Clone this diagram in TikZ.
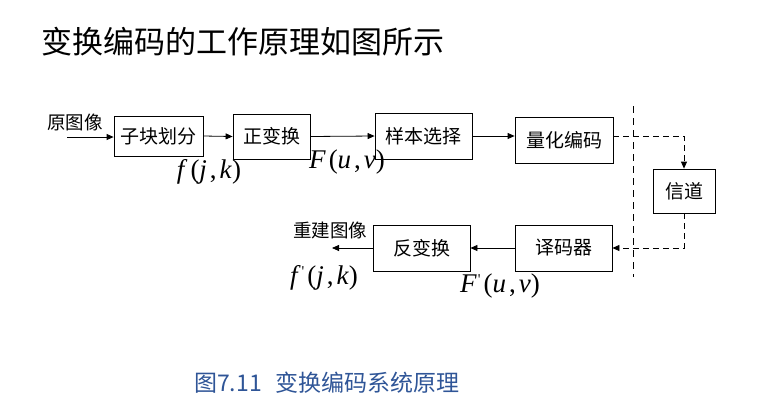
\documentclass[tikz,border=0pt]{standalone}
\usepackage{fontspec}
\newfontfamily\cjk{Noto Sans CJK SC}
\newfontfamily\tms{Liberation Serif}
\usetikzlibrary{arrows.meta}
\definecolor{capblue}{RGB}{47,85,151}
\newcommand{\gp}{\kern3pt}
\newcommand{\prm}{\kern1pt\raisebox{8pt}{\fontsize{15}{15}\selectfont\upshape\char"0027}}
\begin{document}
\begin{tikzpicture}[x=1pt,y=-1pt,
  blk/.style={draw,line width=0.8pt,inner sep=0pt,font=\cjk\fontsize{19}{21}\selectfont},
  lbl/.style={inner sep=0pt,font=\cjk\fontsize{18.5}{21}\selectfont},
  mlbl/.style={inner sep=0pt,font=\tms\fontsize{27}{29}\selectfont},
  arr/.style={line width=0.8pt,-{Triangle[length=7pt,width=6pt]}},
  darr/.style={line width=0.8pt,dash pattern=on 6pt off 4pt,-{Triangle[length=7pt,width=6pt]}},
  dline/.style={line width=0.8pt,dash pattern=on 7pt off 5pt}]
\useasboundingbox (0,0) rectangle (763,410);
\node[inner sep=0pt,anchor=west,font=\cjk\fontsize{31}{33}\selectfont] (title) at (41,42) {变换编码的工作原理如图所示};
\node[blk,minimum width=89pt,minimum height=40pt] (a) at (158.5,136) {子块划分};
\node[blk,minimum width=77pt,minimum height=45pt] (b) at (271.5,136.5) {正变换};
\node[blk,minimum width=97pt,minimum height=46pt] (c) at (423.5,136) {样本选择};
\node[blk,minimum width=98pt,minimum height=46pt] (d) at (564,140) {量化编码};
\node[blk,minimum width=62pt,minimum height=44pt] (e) at (684,191) {信道};
\node[blk,minimum width=97pt,minimum height=46pt] (f) at (421.5,248) {反变换};
\node[blk,minimum width=97pt,minimum height=46pt] (g) at (563.5,248) {译码器};
\coordinate (in) at (67,137);
\coordinate (out) at (332,248);
\coordinate (vt) at (633,106);
\coordinate (vb) at (633,277);
\node[lbl] (l1) at (75,122) {原图像};
\node[lbl] (l2) at (330,230) {重建图像};
\node[mlbl] (m1) at (209,172) {\textit{f}\gp(\textit{j}\gp,\gp\textit{k})};
\node[mlbl] (m2) at (347,162) {\textit{F}\gp(\textit{u}\gp,\gp\textit{v})};
\node[mlbl] (m3) at (324,278) {\textit{f}\prm\gp(\textit{j}\gp,\gp\textit{k})};
\node[mlbl] (m4) at (500,286) {\textit{F}\prm\gp(\textit{u}\gp,\gp\textit{v})};
\draw[arr] (in) -- (a.west |- in);
\draw[arr] (a.east) -- (b.west);
\draw[arr] (b.east) -- (c.west);
\draw[arr] (c.east) -- (c.east -| d.west);
\draw[darr] (d.east |- c.east) -| (e.north);
\draw[darr] (e.south) |- (g.east);
\draw[arr] (g.west) -- (f.east);
\draw[arr] (f.west) -- (out);
\draw[dline] (vt) -- (vb);
\node[inner sep=0pt,anchor=west,text=capblue,font=\cjk\fontsize{23}{25}\selectfont] (cap) at (194,383) {图7.11\hspace{14pt}变换编码系统原理};
\end{tikzpicture}
\end{document}
